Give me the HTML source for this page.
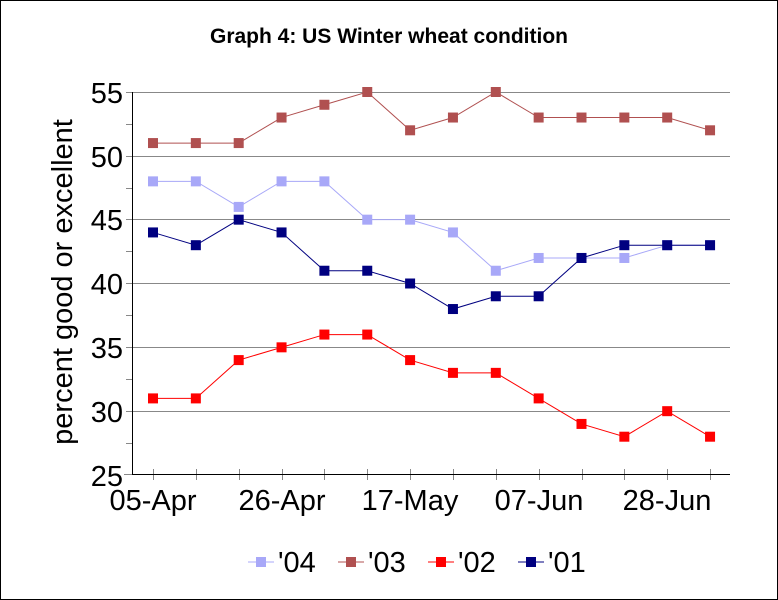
<!DOCTYPE html>
<html><head><meta charset="utf-8"><style>
body{margin:0;background:#fff}
svg{display:block;font-family:"Liberation Sans",Arial,sans-serif}
</style></head><body>
<svg width="778" height="600" xmlns="http://www.w3.org/2000/svg">
<rect x="0.5" y="0.5" width="777" height="599" fill="#fff" stroke="#000"/>
<text x="389" y="43" text-anchor="middle" font-size="21" font-weight="bold">Graph 4: US Winter wheat condition</text>
<g stroke="#888" stroke-width="1">
<line x1="132" y1="92.5" x2="730" y2="92.5"/>
<line x1="132" y1="156.5" x2="730" y2="156.5"/>
<line x1="132" y1="219.5" x2="730" y2="219.5"/>
<line x1="132" y1="283.5" x2="730" y2="283.5"/>
<line x1="132" y1="347.5" x2="730" y2="347.5"/>
<line x1="132" y1="411.5" x2="730" y2="411.5"/>
</g>
<g stroke="#888">
<line x1="126" y1="92.5" x2="132" y2="92.5"/><line x1="126" y1="124.5" x2="132" y2="124.5"/>
<line x1="126" y1="156.5" x2="132" y2="156.5"/><line x1="126" y1="188.5" x2="132" y2="188.5"/>
<line x1="126" y1="219.5" x2="132" y2="219.5"/><line x1="126" y1="251.5" x2="132" y2="251.5"/>
<line x1="126" y1="283.5" x2="132" y2="283.5"/><line x1="126" y1="315.5" x2="132" y2="315.5"/>
<line x1="126" y1="347.5" x2="132" y2="347.5"/><line x1="126" y1="379.5" x2="132" y2="379.5"/>
<line x1="126" y1="411.5" x2="132" y2="411.5"/><line x1="126" y1="443.5" x2="132" y2="443.5"/>
<line x1="124" y1="474.5" x2="132" y2="474.5"/>
</g>
<g stroke="#888" id="xt"></g>
<line x1="132.5" y1="92" x2="132.5" y2="475" stroke="#000"/>
<line x1="132" y1="474.5" x2="730" y2="474.5" stroke="#000"/>
<g font-size="29" text-anchor="end">
<text x="123" y="103">55</text><text x="123" y="167">50</text><text x="123" y="230">45</text>
<text x="123" y="294">40</text><text x="123" y="358">35</text><text x="123" y="422">30</text>
<text x="123" y="486">25</text>
</g>
<g font-size="29" text-anchor="middle">
<text x="153" y="510">05-Apr</text><text x="282" y="510">26-Apr</text><text x="410" y="510">17-May</text>
<text x="539" y="510">07-Jun</text><text x="667" y="510">28-Jun</text>
</g>
<text transform="translate(72,282) rotate(-90)" font-size="29" text-anchor="middle">percent good or excellent</text>
<g id="series"></g>
<g font-size="29">
<line x1="248" y1="562" x2="274" y2="562" stroke="#a8a8f8"/><rect x="256" y="557" width="10" height="10" fill="#a8a8f8"/><text x="278" y="572">'04</text>
<line x1="338" y1="562" x2="364" y2="562" stroke="#b05050"/><rect x="346" y="557" width="10" height="10" fill="#b05050"/><text x="368" y="572">'03</text>
<line x1="428" y1="562" x2="454" y2="562" stroke="#ff0000"/><rect x="436" y="557" width="10" height="10" fill="#ff0000"/><text x="458" y="572">'02</text>
<line x1="518" y1="562" x2="544" y2="562" stroke="#000080"/><rect x="526" y="557" width="10" height="10" fill="#000080"/><text x="548" y="572">'01</text>
</g>
<script>
var ns="http://www.w3.org/2000/svg";
var xs=[];for(var i=0;i<14;i++)xs.push(153+i*42.85);
var xt=document.getElementById("xt");
xs.forEach(function(x){var l=document.createElementNS(ns,"line");l.setAttribute("x1",Math.round(x)+.5);l.setAttribute("x2",Math.round(x)+.5);l.setAttribute("y1",469);l.setAttribute("y2",480);xt.appendChild(l);});
function Y(v){return 475-(v-25)*383/30;}
var S=[["#a8a8f8",[48,48,46,48,48,45,45,44,41,42,42,42,43,43]],
["#b05050",[51,51,51,53,54,55,52,53,55,53,53,53,53,52]],
["#ff0000",[31,31,34,35,36,36,34,33,33,31,29,28,30,28]],
["#000080",[44,43,45,44,41,41,40,38,39,39,42,43,43,43]]];
var g=document.getElementById("series");
S.forEach(function(s){var p=s[1].map(function(v,i){return xs[i]+","+Y(v)}).join(" ");
var pl=document.createElementNS(ns,"polyline");pl.setAttribute("points",p);pl.setAttribute("fill","none");pl.setAttribute("stroke",s[0]);g.appendChild(pl);
s[1].forEach(function(v,i){var r=document.createElementNS(ns,"rect");r.setAttribute("x",xs[i]-5);r.setAttribute("y",Y(v)-5);r.setAttribute("width",10);r.setAttribute("height",10);r.setAttribute("fill",s[0]);g.appendChild(r);});});
</script>
</svg>
</body></html>
